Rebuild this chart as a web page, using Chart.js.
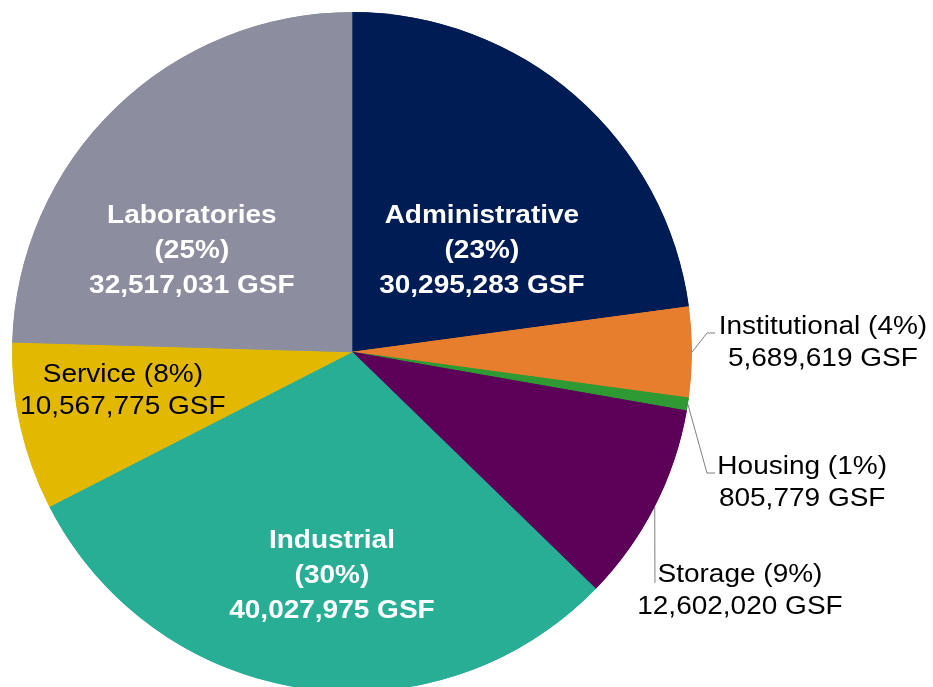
<!DOCTYPE html>
<html>
<head>
<meta charset="utf-8">
<script src="https://cdn.jsdelivr.net/npm/chart.js@4.4.0/dist/chart.umd.min.js"></script>
<style>
    html, body { margin: 0; padding: 0; background: #fff; overflow: hidden; }
    #wrap { position: relative; width: 933px; height: 700px; }
</style>
</head>
<body>
<div id="wrap"><canvas id="gsf-pie" width="933" height="700"></canvas></div>
<script>
// Space by use, gross square feet
const categories = ['Administrative', 'Institutional', 'Housing', 'Storage', 'Industrial', 'Service', 'Laboratories'];
const gsfValues = [30295283, 5689619, 805779, 12602020, 40027975, 10567775, 32517031];
const percentLabels = ['23%', '4%', '1%', '9%', '30%', '8%', '25%'];
const sliceColors = ['#001c54', '#e67e2e', '#2f9a34', '#5c0058', '#29ae96', '#e2b900', '#8c8e9f'];

/**
 * Where each label sits, as fractions of the pie radius from the centre.
 * style: 'inside' = bold white 3 lines, 'plain' = black 2 lines.
 * leader: extra points (fractions of radius) after the slice's edge point.
 */
const labelPlacement = [
    { dx: 0.382, dy: -0.297, style: 'inside' },
    { dx: 1.385, dy: -0.025, style: 'plain', leader: [[1.044, -0.056], [1.068, -0.056]] },
    { dx: 1.324, dy: 0.387, style: 'plain', leader: [[1.044, 0.356], [1.068, 0.356]] },
    { dx: 1.141, dy: 0.704, style: 'plain', leader: [[0.891, 0.679]] },
    { dx: -0.059, dy: 0.659, style: 'inside' },
    { dx: -0.674, dy: 0.116, style: 'plain' },
    { dx: -0.471, dy: -0.296, style: 'inside' }
];

const TEXT_STRETCH = 1.12;

function formatGsf(v) {
    return v.toLocaleString('en-US') + ' GSF';
}

function drawStretchedText(ctx, text, x, y) {
    ctx.save();
    ctx.translate(x, y);
    ctx.scale(TEXT_STRETCH, 1);
    ctx.fillText(text, 0, 0);
    ctx.restore();
}

const sliceLabels = {
    id: 'sliceLabels',
    afterDatasetsDraw(chart) {
        const ctx = chart.ctx;
        const arcs = chart.getDatasetMeta(0).data;
        arcs.forEach((arc, i) => {
            const place = labelPlacement[i];
            const cx = arc.x, cy = arc.y, r = arc.outerRadius;

            // Leader line from the middle of the slice edge
            if (place.leader) {
                const mid = (arc.startAngle + arc.endAngle) / 2;
                ctx.save();
                ctx.strokeStyle = '#7f7f7f';
                ctx.lineWidth = 1;
                ctx.beginPath();
                ctx.moveTo(cx + r * Math.cos(mid), cy + r * Math.sin(mid));
                place.leader.forEach(p => ctx.lineTo(cx + p[0] * r, cy + p[1] * r));
                ctx.stroke();
                ctx.restore();
            }

            let lines, lineHeight;
            ctx.save();
            ctx.textAlign = 'center';
            ctx.textBaseline = 'middle';
            if (place.style === 'inside') {
                lines = [categories[i], '(' + percentLabels[i] + ')', formatGsf(gsfValues[i])];
                ctx.font = 'bold 25px "Liberation Sans", Arial, sans-serif';
                ctx.fillStyle = '#ffffff';
                lineHeight = 35;
            } else {
                lines = [categories[i] + ' (' + percentLabels[i] + ')', formatGsf(gsfValues[i])];
                ctx.font = '25px "Liberation Sans", Arial, sans-serif';
                ctx.fillStyle = '#000000';
                lineHeight = 32;
            }
            const x = cx + place.dx * r;
            const y = cy + place.dy * r;
            const top = y - (lines.length - 1) * lineHeight / 2;
            lines.forEach((t, k) => drawStretchedText(ctx, t, x, top + k * lineHeight));
            ctx.restore();
        });
    }
};

function initPie() {
    const canvas = document.getElementById('gsf-pie');
    new Chart(canvas.getContext('2d'), {
        type: 'pie',
        data: {
            labels: categories,
            datasets: [{
                data: gsfValues,
                backgroundColor: sliceColors,
                borderColor: sliceColors,
                borderWidth: 1,
                borderAlign: 'inner',
                hoverOffset: 0
            }]
        },
        options: {
            responsive: false,
            animation: false,
            layout: {
                padding: { left: 12, top: 12, right: 241, bottom: 8 }
            },
            plugins: {
                legend: { display: false },
                tooltip: { enabled: false }
            }
        },
        plugins: [sliceLabels]
    });
}

initPie();
</script>
</body>
</html>
